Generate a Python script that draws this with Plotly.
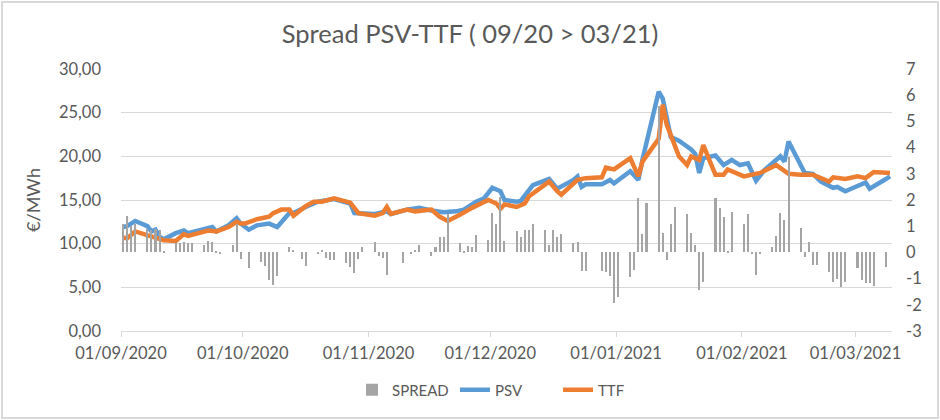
import pandas as pd
import plotly.graph_objects as go

# PSV line (vertex dates and €/MWh values)
psv_dates = [
    "2020-09-01", "2020-09-02", "2020-09-04", "2020-09-07", "2020-09-08", "2020-09-09",
    "2020-09-10", "2020-09-11", "2020-09-14", "2020-09-16", "2020-09-17", "2020-09-20",
    "2020-09-23", "2020-09-24", "2020-09-27", "2020-09-29", "2020-09-30", "2020-10-02",
    "2020-10-04", "2020-10-07", "2020-10-09", "2020-10-12", "2020-10-13", "2020-10-16",
    "2020-10-19", "2020-10-23", "2020-10-27", "2020-10-28", "2020-10-31", "2020-11-02",
    "2020-11-05", "2020-11-06", "2020-11-10", "2020-11-13", "2020-11-16", "2020-11-19",
    "2020-11-22", "2020-11-24", "2020-11-27", "2020-11-29", "2020-12-01", "2020-12-03",
    "2020-12-04", "2020-12-07", "2020-12-08", "2020-12-11", "2020-12-15", "2020-12-17",
    "2020-12-21", "2020-12-22", "2020-12-23", "2020-12-24", "2020-12-28", "2020-12-30",
    "2020-12-31", "2021-01-04", "2021-01-06", "2021-01-07", "2021-01-11", "2021-01-12",
    "2021-01-14", "2021-01-16", "2021-01-19", "2021-01-20", "2021-01-21", "2021-01-22",
    "2021-01-25", "2021-01-27", "2021-01-29", "2021-01-31", "2021-02-02", "2021-02-04",
    "2021-02-06", "2021-02-10", "2021-02-11", "2021-02-12", "2021-02-16", "2021-02-18",
    "2021-02-20", "2021-02-23", "2021-02-24", "2021-02-26", "2021-03-03", "2021-03-04",
    "2021-03-08", "2021-03-09",
]
psv = [
    11.9, 12.0, 12.6, 12.0, 11.4, 11.6,
    10.8, 10.5, 11.2, 11.5, 11.2, 11.6,
    11.9, 11.4, 12.1, 12.9, 12.3, 11.6,
    12.1, 12.3, 11.9, 13.5, 13.5, 14.2,
    14.8, 15.1, 14.6, 13.5, 13.5, 13.4,
    13.7, 13.4, 13.9, 14.1, 13.8, 13.6,
    13.7, 13.9, 14.8, 15.2, 16.4, 16.0,
    15.0, 14.8, 14.9, 16.7, 17.4, 16.3,
    17.3, 17.7, 16.5, 16.8, 16.8, 17.3,
    16.9, 18.3, 17.3, 19.6, 27.4, 26.6,
    22.2, 21.8, 20.8, 20.3, 18.1, 19.8,
    20.1, 19.0, 19.6, 19.0, 19.2, 17.2,
    18.4, 20.0, 19.4, 21.7, 18.1, 18.0,
    17.1, 16.4, 16.5, 16.0, 17.0, 16.3,
    17.4, 17.7,
]

# TTF line
ttf_dates = [
    "2020-09-01", "2020-09-02", "2020-09-04", "2020-09-07", "2020-09-10", "2020-09-11",
    "2020-09-14", "2020-09-16", "2020-09-17", "2020-09-20", "2020-09-22", "2020-09-24",
    "2020-09-27", "2020-09-29", "2020-09-30", "2020-10-01", "2020-10-04", "2020-10-07",
    "2020-10-08", "2020-10-10", "2020-10-12", "2020-10-13", "2020-10-16", "2020-10-18",
    "2020-10-20", "2020-10-23", "2020-10-27", "2020-10-29", "2020-11-02", "2020-11-04",
    "2020-11-05", "2020-11-06", "2020-11-10", "2020-11-12", "2020-11-16", "2020-11-18",
    "2020-11-20", "2020-11-23", "2020-11-26", "2020-11-30", "2020-12-02", "2020-12-03",
    "2020-12-04", "2020-12-07", "2020-12-09", "2020-12-10", "2020-12-15", "2020-12-17",
    "2020-12-18", "2020-12-22", "2020-12-24", "2020-12-28", "2020-12-29", "2020-12-31",
    "2021-01-04", "2021-01-06", "2021-01-07", "2021-01-11", "2021-01-12", "2021-01-13",
    "2021-01-15", "2021-01-16", "2021-01-18", "2021-01-19", "2021-01-21", "2021-01-22",
    "2021-01-24", "2021-01-25", "2021-01-27", "2021-01-28", "2021-02-01", "2021-02-05",
    "2021-02-09", "2021-02-12", "2021-02-15", "2021-02-18", "2021-02-22", "2021-02-23",
    "2021-02-26", "2021-03-01", "2021-03-03", "2021-03-05", "2021-03-09",
]
ttf = [
    10.7, 10.6, 11.4, 11.0, 10.6, 10.4,
    10.3, 11.1, 10.9, 11.2, 11.5, 11.4,
    11.9, 12.5, 12.3, 12.3, 12.8, 13.1,
    13.5, 13.9, 13.9, 13.2, 14.3, 14.8,
    14.8, 15.2, 14.7, 13.5, 13.2, 13.5,
    14.2, 13.4, 13.9, 13.7, 13.9, 13.1,
    12.6, 13.3, 14.1, 15.0, 14.6, 14.0,
    14.5, 14.2, 14.6, 15.4, 17.1, 16.0,
    15.6, 17.3, 17.5, 17.6, 18.7, 18.5,
    19.8, 17.7, 19.4, 22.0, 25.9, 23.6,
    21.1, 20.0, 19.0, 20.0, 19.6, 21.3,
    19.0, 17.9, 17.9, 18.5, 17.7, 18.1,
    19.0, 18.0, 17.9, 17.9, 17.1, 17.6,
    17.4, 17.7, 17.5, 18.2, 18.1,
]

# SPREAD bars, one per business day from 01/09/2020 to 08/03/2021 (one row per week)
spread_dates = pd.bdate_range("2020-09-01", "2021-03-08")
spread = [
    1.1, 1.4, 1.0, 1.1,
    0.9, 0.85, 0.9, 0.85, 0.05,
    0.35, 0.35, 0.4, 0.35, 0.35,
    0.3, 0.45, 0.4, 0.04, -0.03,
    0.3, 1.1, -0.25, 0.0, -0.6,
    -0.35, -0.5, -1.05, -1.25, -0.9,
    0.2, 0.1, 0.0, -0.25, -0.5,
    -0.05, 0.1, -0.2, -0.3, -0.3,
    -0.4, -0.55, -0.8, -0.25, 0.2,
    0.4, -0.15, -0.2, -0.85, 0.0,
    -0.42, 0.0, -0.05, 0.1, 0.28,
    -0.15, 0.2, 0.6, 0.6, 1.45,
    0.35, 0.03, 0.25, 0.2, 0.65,
    0.47, 1.5, 1.1, 2.1, 0.45,
    0.8, 0.6, 0.85, 0.85, 1.1,
    0.85, 0.3, 0.85, 0.6, 0.7,
    0.35, 0.4, -0.7, -0.7, 0.0,
    -0.7, -0.75, -0.9, -1.95, -1.7,
    -0.93, -0.67, 2.06, 0.7, 1.87,
    5.6, 0.75, -0.3, 1.1, 1.75,
    1.46, 0.73, 0.28, -1.44, -1.12,
    2.06, 1.68, 1.34, 0.03, 1.55,
    1.1, 1.46, -0.05, -0.87, -0.05,
    0.2, 0.62, 1.49, 1.23, 3.65,
    0.92, -0.17, 0.38, -0.48, -0.48,
    -0.74, -1.12, -1.0, -1.31, -1.12,
    -0.61, -1.05, -1.18, -1.18, -1.28,
    -0.55,
]

left_ticks = [0, 5, 10, 15, 20, 25, 30]
right_ticks = [-3, -2, -1, 0, 1, 2, 3, 4, 5, 6, 7]

DAY = 86400000
grey_text = "#595959"
grid = "#d9d9d9"

# page layout: left axis labels sit ~20px left of the plot area
W, H = 940, 420
ML, MR, MT, MB = 101, 48, 69, 89
GAP = 20
pw, ph = W - ML - MR, H - MT - MB

fig = go.Figure()

# spread bars on the secondary axis (drawn above the lines, as in Excel)
fig.add_trace(go.Bar(x=spread_dates, y=spread, name="SPREAD", yaxis="y2",
                     marker=dict(color="#a5a5a5", line_width=0),
                     width=DAY * 0.5, xperiod=DAY, xperiodalignment="middle"))
fig.add_trace(go.Scatter(x=psv_dates, y=psv, name="PSV", mode="lines",
                         line=dict(color="#5b9bd5", width=4.5),
                         xperiod=DAY, xperiodalignment="middle"))
fig.add_trace(go.Scatter(x=ttf_dates, y=ttf, name="TTF", mode="lines",
                         line=dict(color="#ed7d31", width=4.5),
                         xperiod=DAY, xperiodalignment="middle"))

fig.update_layout(
    width=W, height=H,
    margin=dict(l=ML, r=MR, t=MT, b=MB),
    paper_bgcolor="white", plot_bgcolor="white",
    font=dict(family="Lato, Open Sans, sans-serif", size=16.5, color=grey_text),
    separators=",.",
    title=dict(text="Spread PSV-TTF ( 09/20 > 03/21)", x=0.5, xanchor="center",
               y=0.918, yanchor="middle", font=dict(size=25.5, color=grey_text)),
    showlegend=True,
    legend=dict(orientation="h", x=(GAP + (pw - GAP) / 2) / pw, xanchor="center",
                y=-0.225, yanchor="middle",
                font=dict(size=15, color=grey_text), traceorder="normal",
                entrywidth=58),
    bargap=0,
    xaxis=dict(type="date", range=["2020-09-01", "2021-03-10"], domain=[GAP / pw, 1],
               tick0="2020-09-01", dtick="M1", tickformat="%d/%m/%Y",
               showgrid=False, showline=True, linecolor=grid, linewidth=1,
               ticks="outside", ticklen=5, tickcolor=grid,
               ticklabelstandoff=2, zeroline=False),
    yaxis=dict(range=[0, 30], tickvals=left_ticks, tickformat=".2f",
               anchor="free", position=0,
               showgrid=True, gridcolor=grid, gridwidth=1, zeroline=False,
               showline=False, ticks="",
               title=dict(text="€/MWh", standoff=12, font=dict(size=18, color=grey_text))),
    yaxis2=dict(range=[-3, 7], overlaying="y", side="right", anchor="x",
                tickvals=right_ticks, ticktext=[str(t) for t in right_ticks],
                showgrid=False, zeroline=False, showline=False, ticklabelstandoff=13),
)

# light frame around the whole chart area
fig.add_shape(type="rect", xref="paper", yref="paper",
              x0=-(ML - 2) / pw, x1=1 + (MR - 2) / pw,
              y0=-(MB - 2) / ph, y1=1 + (MT - 2) / ph,
              line=dict(color=grid, width=2), layer="below")

fig.write_html("out.html", config={"displayModeBar": False},
               post_script="document.body.style.margin = '0';")
